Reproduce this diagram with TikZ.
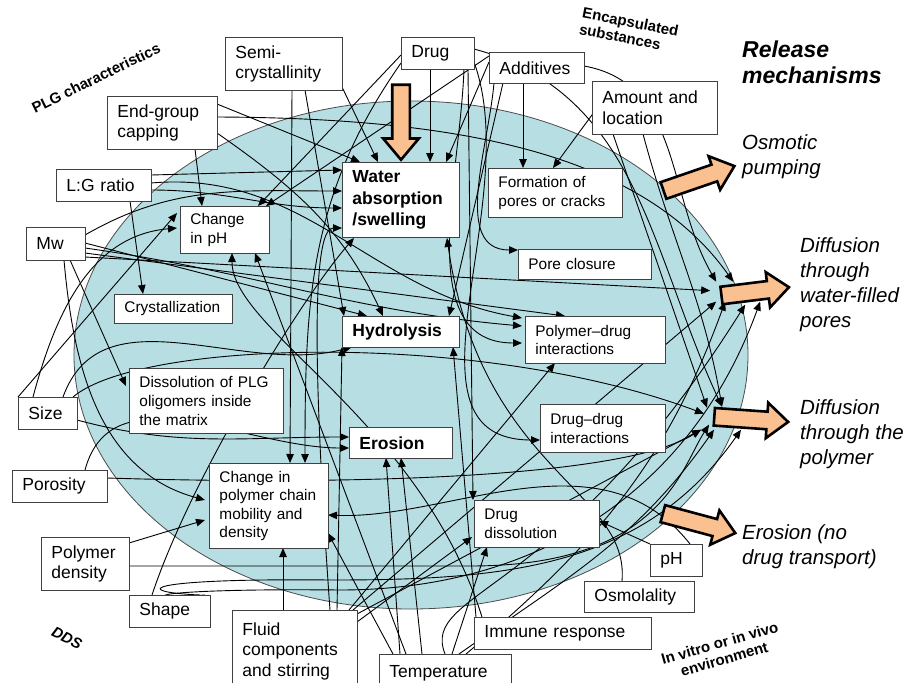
\documentclass[tikz,border=0pt]{standalone}
\usepackage{fontspec}
\setmainfont{Liberation Sans}
\usetikzlibrary{positioning,arrows.meta,shapes,calc}
\definecolor{matrixblue}{RGB}{183,222,227}
\definecolor{peach}{RGB}{250,192,144}
\pgfdeclarelayer{back}
\pgfdeclarelayer{wires}
\pgfsetlayers{back,wires,main}

\begin{document}
\begin{tikzpicture}[
  x=1pt, y=-1pt,
  box/.style={draw=black!75, fill=white, line width=0.9pt, anchor=north west, align=left, inner xsep=10pt, inner ysep=3pt, font=\fontsize{17.5}{20.5}\selectfont},
  sbox/.style={box, font=\fontsize{15.4}{18.6}\selectfont},
  bbox/.style={box, font=\fontsize{17.5}{21.5}\selectfont\bfseries},
  conn/.style={-{Triangle[length=9pt,width=7.5pt]}, line width=0.9pt},
  relarrow/.style={single arrow, draw=black, line width=2.6pt, fill=peach, inner sep=0pt, inner ysep=7.5pt, single arrow head extend=9pt, single arrow tip angle=80, minimum height=#1},
  mech/.style={anchor=north west, inner sep=0pt, align=left, font=\fontsize{20.5}{25}\selectfont\itshape},
  grp/.style={inner sep=0pt, align=left, font=\fontsize{15}{16.5}\selectfont\bfseries}
]
\useasboundingbox (0,0) rectangle (906,683);

\begin{pgfonlayer}{back}
\node[ellipse, draw=black!70, line width=0.8pt, fill=matrixblue, minimum width=674, minimum height=508, inner sep=0pt] (dds) at (411,355) {};
\end{pgfonlayer}

% group labels
\node[grp, rotate=26] (plglbl) at (96,78) {PLG characteristics};
\node[grp, rotate=-11] (enclbl) at (629,30) {Encapsulated\\substances};
\node[grp, rotate=-26, font=\fontsize{15}{16.5}\selectfont\bfseries\itshape] (ddslbl) at (67,638) {DDS};
\node[grp, rotate=16, align=center] (envlbl) at (722,651) {In vitro or in vivo\\environment};

% release mechanisms
\node[anchor=north west, inner sep=0pt, align=left, font=\fontsize{23}{25.5}\selectfont\bfseries\itshape] (rellbl) at (742,41) {Release\\mechanisms};
\node[mech] (osmlbl) at (742,134) {Osmotic\\pumping};
\node[mech] (wfplbl) at (800,237) {Diffusion\\through\\water-filled\\pores};
\node[mech] (pollbl) at (800,399) {Diffusion\\through the\\polymer};
\node[mech] (erolbl) at (742,524) {Erosion (no\\drug transport)};

\node[relarrow=75, rotate=19] (osmarr) at (694,180) {};
\node[relarrow=68, rotate=7] (wfparr) at (750,292) {};
\node[relarrow=74, rotate=-4] (polarr) at (746,419) {};
\node[relarrow=75, rotate=-15] (eroarr) at (694,522) {};
\node[relarrow=75, rotate=-90] (inarr) at (401,117) {};

% factors
\node[box, text width=97pt, minimum height=53pt] (semi) at (225,37) {Semi-\\crystallinity};
\node[box, text width=53pt, minimum height=32pt] (drug) at (401,37) {Drug};
\node[box, text width=75pt, minimum height=31pt] (addit) at (489,52) {Additives};
\node[box, text width=105pt, minimum height=53pt] (amount) at (592,81) {Amount and\\location};
\node[box, text width=90pt, minimum height=53pt] (endcap) at (107,96) {End-group\\capping};
\node[box, text width=75pt, minimum height=32pt] (lg) at (56,169) {L:G ratio};
\node[box, text width=39pt, minimum height=33pt] (mw) at (26,227) {Mw};
\node[box, text width=39pt, minimum height=32pt] (size) at (18,397) {Size};
\node[box, text width=75pt, minimum height=32pt] (poros) at (12,470) {Porosity};
\node[box, text width=68pt, minimum height=53pt] (pdens) at (41,537) {Polymer\\density};
\node[box, text width=61pt, minimum height=32pt] (shape) at (129,595) {Shape};
\node[box, text width=105pt, minimum height=82pt] (fluid) at (232,610) {Fluid\\components\\and stirring};
\node[box, text width=112pt, minimum height=38pt] (temp) at (379,654) {Temperature};
\node[box, text width=157pt, minimum height=32pt] (immune) at (474,617) {Immune response};
\node[box, text width=90pt, minimum height=31pt] (osmol) at (584,581) {Osmolality};
\node[box, text width=32pt, minimum height=32pt] (ph) at (650,544) {pH};

% processes
\node[sbox, text width=69pt, minimum height=47pt] (chph) at (180,206) {Change\\in pH};
\node[bbox, text width=97pt, minimum height=75pt] (water) at (342,162) {Water\\absorption\\/swelling};
\node[sbox, text width=114pt, minimum height=49pt] (form) at (488,168) {Formation of\\pores or cracks};
\node[sbox, text width=113pt, minimum height=30pt] (poreclos) at (518,249) {Pore closure};
\node[sbox, text width=98pt, minimum height=29pt] (cryst) at (114,294) {Crystallization};
\node[bbox, text width=97pt, minimum height=31pt] (hydro) at (342,316) {Hydrolysis};
\node[sbox, text width=120pt, minimum height=47pt] (polydrug) at (525,316) {Polymer–drug\\interactions};
\node[sbox, text width=134pt, minimum height=65pt] (dissol) at (129,368) {Dissolution of PLG\\oligomers inside\\the matrix};
\node[bbox, text width=83pt, minimum height=31pt] (erosion) at (349,427) {Erosion};
\node[sbox, text width=105pt, minimum height=48pt] (drugdrug) at (540,404) {Drug–drug\\interactions};
\node[sbox, text width=99pt, minimum height=85pt] (chain) at (209,463) {Change in\\polymer chain\\mobility and\\density};
\node[sbox, text width=105pt, minimum height=47pt] (drugdiss) at (474,500) {Drug\\dissolution};

\begin{pgfonlayer}{wires}
% End-group capping
\draw[conn] ($(endcap.north west)+(110,8)$) -- ($(water.north west)+(18,0)$);
\draw[conn] ($(endcap.north west)+(88,53)$) -- ($(chph.north west)+(22,0)$);
\draw[conn] ($(endcap.north west)+(110,21)$) .. controls (450,118) and (640,150) .. ($(wfparr.tail)+(13,-14)$);
\draw[conn] ($(endcap.north west)+(110,37)$) to[out=-35,in=115] ($(hydro.north west)+(41,0)$);
% Semi-crystallinity
\draw[conn] ($(semi.north west)+(117,50)$) -- ($(water.north west)+(36,0)$);
\draw[conn] ($(semi.north west)+(67,53)$) -- ($(chain.north west)+(81,0)$);
\draw[conn] ($(semi.north west)+(80,53)$) -- ($(hydro.north west)+(2,0)$);
% Drug
\draw[conn] ($(drug.north west)+(29,32)$) -- ($(water.north west)+(88,0)$);
\draw[conn] ($(drug.north west)+(0,18)$) -- ($(chph.north west)+(78,0)$);
\draw[conn] ($(drug.north west)+(0,26)$) to[out=-125,in=90] ($(chain.north west)+(96,0)$);
\draw[conn] ($(drug.north west)+(67,32)$) -- ($(drugdiss.north west)+(-1,0)$);
\draw[conn] ($(drug.north west)+(63,32)$) to[out=-92,in=180] ($(polydrug.north west)+(-3,27)$);
\draw[conn] ($(drug.north west)+(73,25)$) to[out=-70,in=180] ($(drugdrug.north west)+(0,36)$);
\draw[conn] ($(drug.north west)+(73,12)$) to[out=-15,in=115] ($(polarr.tail)+(9,-10)$);
% Additives
\draw[conn] ($(addit.north west)+(0,10)$) -- ($(water.north west)+(104,0)$);
\draw[conn] ($(addit.north west)+(0,4)$) -- ($(chph.north west)+(86,0)$);
\draw[conn] ($(addit.north west)+(34,31)$) -- ($(form.north west)+(35,0)$);
\draw[conn] ($(addit.north west)+(14,31)$) -- ($(hydro.north west)+(107,0)$);
\draw[conn] ($(addit.north west)+(5,31)$) to[out=-95,in=180] ($(poreclos.north west)+(0,1)$);
\draw[conn] ($(addit.north west)+(95,14)$) to[out=-10,in=120] ($(wfparr.tail)+(-4,-14)$);
% Amount and location
\draw[conn] ($(amount.north west)+(8,23)$) -- ($(form.north west)+(65,0)$);
\draw[conn] ($(amount.north west)+(21,53)$) -- ($(polarr.tail)+(-6,-9)$);
\draw[conn] ($(amount.north west)+(51,53)$) to[out=-75,in=100] ($(polarr.tail)+(9,-10)$);
% L:G ratio
\draw[conn] ($(lg.north west)+(95,6)$) -- ($(water.north west)+(0,8)$);
\draw[conn] ($(lg.north west)+(95,14)$) to[out=5,in=170] ($(polydrug.north west)+(-3,2)$);
\draw[conn] ($(lg.north west)+(74,32)$) -- ($(cryst.north west)+(29,0)$);
\draw[conn] ($(lg.north west)+(95,21)$) to[out=0,in=180] ($(water.north west)+(0,46)$);
% Mw
\draw[conn] ($(mw.north west)+(59,16)$) -- ($(hydro.north west)+(25,0)$);
\draw[conn] ($(mw.north west)+(59,21)$) to[out=-8,in=175] ($(polydrug.north west)+(-3,10)$);
\draw[conn] ($(mw.north west)+(59,26)$) -- ($(polydrug.north west)+(40,0)$);
\draw[conn] ($(mw.north west)+(59,30)$) -- ($(wfparr.tail)+(-10,-5)$);
\draw[conn] ($(mw.north west)+(44,33)$) -- ($(dissol.north west)+(-3,18)$);
\draw[conn] ($(mw.north west)+(38,33)$) to[out=-85,in=165] ($(chain.north west)+(-4,37)$);
\draw[conn] ($(mw.north west)+(59,8)$) to[out=30,in=180] ($(water.north west)+(0,29)$);
% Size
\draw[conn] (size.north west) -- ($(chph.north west)+(-3,7)$);
\draw[conn] ($(size.north west)+(15,0)$) to[out=75,in=185] ($(chph.north west)+(-3,22)$);
\draw[conn] ($(size.north west)+(45,0)$) to[out=70,in=-165] ($(hydro.north west)+(10,31)$);
\draw[conn] ($(size.north west)+(59,23)$) to[out=-15,in=180] ($(erosion.north west)+(0,10)$);
\draw[conn] ($(size.north west)+(55,0)$) .. controls (140,340) and (480,330) .. ($(polarr.tail)+(-9,-3)$);
% Porosity
\draw[conn] ($(poros.north west)+(73,0)$) to[out=75,in=180] ($(erosion.north west)+(0,21)$);
\draw[conn] ($(poros.north west)+(95,8)$) .. controls (330,485) and (620,480) .. ($(polarr.tail)+(-12,13)$);
% Polymer density
\draw[conn] ($(pdens.north west)+(88,6)$) -- ($(chain.north west)+(-4,57)$);
\draw[conn] ($(pdens.north west)+(88,29)$) -- (470,566) .. controls (660,566) and (680,470) .. ($(polarr.tail)+(-4,8)$);
% Shape
\draw[conn] ($(shape.north west)+(23,0)$) .. controls (190,480) and (300,300) .. ($(water.north west)+(12,76)$);
\draw[conn] ($(shape.north west)+(71,0)$) .. controls (130,592) and (140,578) .. (330,580) to[out=0,in=-125] ($(polarr.tail)+(28,13)$);
\draw[conn] ($(shape.north west)+(76,0)$) .. controls (135,600) and (145,588) .. (340,590) to[out=0,in=-110] ($(wfparr.tail)+(40,6)$);
% Fluid components and stirring
\draw[conn] ($(fluid.north west)+(51,0)$) -- ($(chain.north west)+(74,85)$);
\draw[conn] ($(fluid.north west)+(125,12)$) -- ($(drugdiss.north west)+(-2,37)$);
\draw[conn] ($(fluid.north west)+(105,0)$) -- ($(hydro.north west)+(0,31)$);
\draw[conn] ($(fluid.north west)+(98,0)$) .. controls (310,330) and (315,228) .. ($(water.north west)+(0,66)$);
\draw[conn] ($(fluid.north west)+(121,0)$) -- ($(wfparr.tail)+(-4,6)$);
\draw[conn] ($(fluid.north west)+(125,4)$) -- ($(polarr.tail)+(-12,13)$);
\draw[conn] ($(fluid.north west)+(117,0)$) -- ($(polydrug.north west)+(30,47)$);
% Temperature
\draw[conn] ($(temp.north west)+(21,0)$) -- ($(erosion.north west)+(37,31)$);
\draw[conn] ($(temp.north west)+(43,0)$) -- ($(erosion.north west)+(52,31)$);
\draw[conn] ($(temp.north west)+(14,0)$) -- ($(chain.north west)+(119,70)$);
\draw[conn] ($(temp.north west)+(73,0)$) -- ($(drugdiss.north west)+(13,47)$);
\draw[conn] ($(temp.north west)+(27,0)$) -- ($(chph.north west)+(75,47)$);
\draw[conn] ($(temp.north west)+(80,0)$) to[out=35,in=-125] ($(polarr.tail)+(1,13)$);
\draw[conn] ($(temp.north west)+(87,0)$) to[out=40,in=-110] ($(wfparr.tail)+(5,6)$);
\draw[conn] ($(temp.north west)+(66,0)$) .. controls (420,590) and (560,600) .. ($(wfparr.tail)+(25,9)$);
% Immune response
\draw[conn] ($(immune.north west)+(2,0)$) -- ($(hydro.north west)+(111,31)$);
\draw[conn] ($(immune.north west)+(8,0)$) .. controls (420,420) and (232,330) .. ($(chph.north west)+(52,47)$);
% Osmolality
\draw[conn] ($(osmol.north west)+(38,0)$) .. controls (630,490) and (480,470) .. ($(water.north west)+(105,76)$);
% pH
\draw[conn] (ph.north west) -- ($(drugdiss.north west)+(125,21)$);
\draw[conn] ($(ph.north west)+(40,0)$) .. controls (600,430) and (450,520) .. ($(chain.north west)+(119,52)$);
\end{pgfonlayer}
\end{tikzpicture}
\end{document}
